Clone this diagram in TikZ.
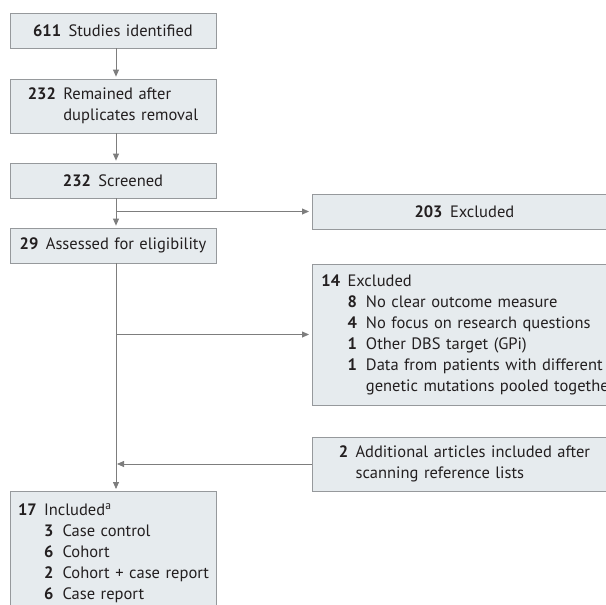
\documentclass[tikz,border=0pt]{standalone}
\usepackage{fontspec}
\setmainfont{PT Sans}
\usepackage{xcolor}
\definecolor{boxfill}{RGB}{230,235,238}
\definecolor{boxline}{RGB}{150,153,156}
\definecolor{flowline}{RGB}{125,125,125}
\definecolor{ink}{RGB}{35,31,32}
\usetikzlibrary{arrows.meta}
\newcommand{\cnt}[1]{\textbf{#1}\hspace{0.45em}}
\newcommand{\widthleft}{206}
\newcommand{\widthright}{304}
\tikzset{
    stage/.style={draw=boxline, fill=boxfill, line width=0.8pt, rectangle, text=ink,
        font=\fontsize{16.5}{21}\selectfont, inner ysep=0pt},
    leftbox/.style={stage, inner xsep=8pt, text width=\widthleft-16, align=center},
    rightbox/.style={stage, inner xsep=9pt, text width=\widthright-18, align=center},
    flow/.style={draw=flowline, line width=0.8pt, -{Triangle[length=7pt, width=6pt]}, shorten >=2pt},
    link/.style={draw=flowline, line width=0.8pt}
}

\begin{document}
\begin{tikzpicture}[x=1pt, y=-1pt]
    \useasboundingbox (0,0) rectangle (606,605);
    \clip (0,0) rectangle (606,605);
    \coordinate (spine) at (116,0);

    % main column
    \node[leftbox, minimum height=35] (found) at (113,30.5) {\cnt{611}Studies identified};
    \node[leftbox, minimum height=54] (dedup) at (113,106)
        {\begin{tabular}{@{}l@{\hspace{0.45em}}l@{}}\textbf{232} & Remained after\\ & duplicates removal\end{tabular}};
    \node[leftbox, minimum height=35] (screen) at (113,180.5) {\cnt{232}Screened};
    \node[leftbox, minimum height=35] (assess) at (113,245.5) {\cnt{29}Assessed for eligibility};
    \node[leftbox, align=left, minimum height=124, anchor=north] (incl) at (113,491)
        {\begin{tabular}{@{}l@{\hspace{0.45em}}l@{\hspace{0.55em}}l@{}}
            \textbf{17} & \multicolumn{2}{@{}l@{}}{Included\textsuperscript{a}}\\
            & \textbf{3} & Case control\\
            & \textbf{6} & Cohort\\
            & \textbf{2} & Cohort + case report\\
            & \textbf{6} & Case report
        \end{tabular}};

    % side column
    \node[rightbox, minimum height=35, anchor=west] (excl1) at (312,211.5) {\cnt{203}Excluded};
    \node[rightbox, align=left, minimum height=141, anchor=west] (excl2) at (312,334.5)
        {\begin{tabular}{@{}l@{\hspace{0.45em}}l@{\hspace{0.55em}}l@{}}
            \textbf{14} & \multicolumn{2}{@{}l@{}}{Excluded}\\
            & \textbf{8} & No clear outcome measure\\
            & \textbf{4} & No focus on research questions\\
            & \textbf{1} & Other DBS target (GPi)\\
            & \textbf{1} & Data from patients with different\\
            & & genetic mutations pooled together
        \end{tabular}};
    \node[rightbox, minimum height=54, anchor=west] (extra) at (312,464)
        {\begin{tabular}{@{}l@{\hspace{0.45em}}l@{}}\textbf{2} & Additional articles included after\\ & scanning reference lists\end{tabular}};

    % connectors
    \draw[flow] (found.south -| spine) -- (dedup.north -| spine);
    \draw[flow] (dedup.south -| spine) -- (screen.north -| spine);
    \draw[flow] (screen.south -| spine) -- (assess.north -| spine);
    \draw[flow, shorten >=3pt] (excl1.west -| spine) -- (excl1.west);
    \draw[flow] (assess.south -| spine) -- (incl.north -| spine);
    \draw[flow, shorten >=3pt] (excl2.west -| spine) -- (excl2.west);
    \draw[flow, shorten >=1pt] (extra.west) -- (extra.west -| spine);
\end{tikzpicture}
\end{document}
